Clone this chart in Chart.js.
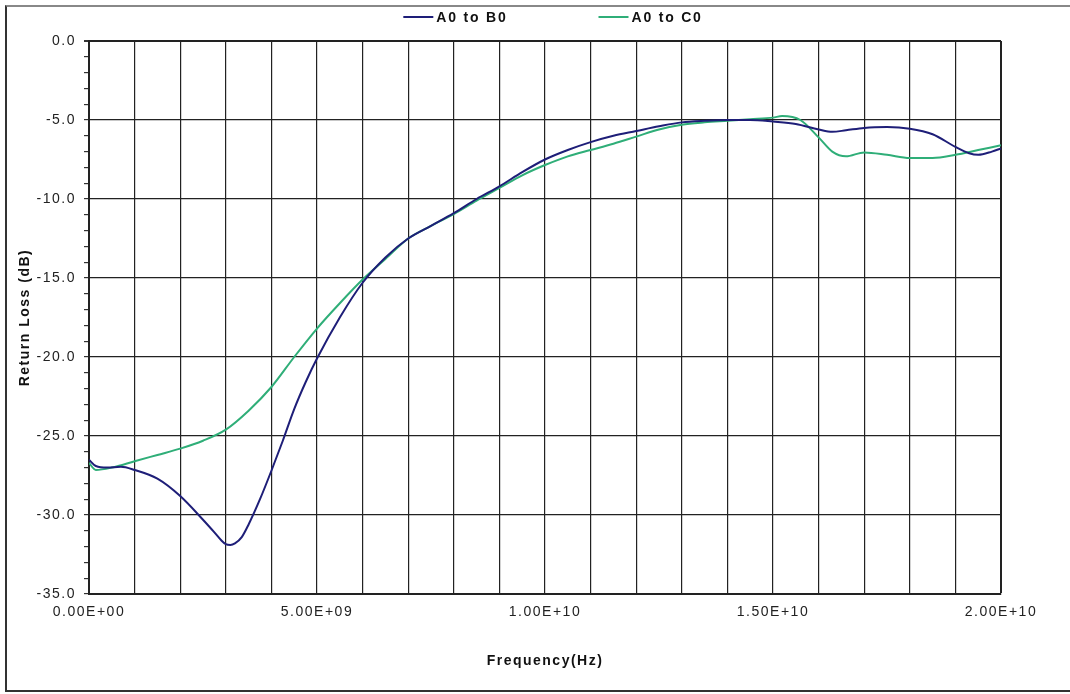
<!DOCTYPE html>
<html>
<head>
<meta charset="utf-8">
<title>Return Loss</title>
<script src="https://cdn.jsdelivr.net/npm/chart.js@4.4.1/dist/chart.umd.min.js"></script>
<style>
  html, body { margin: 0; padding: 0; background: #fff; }
  #wrap { position: relative; width: 1070px; height: 694px; overflow: hidden; }
  #chart { position: absolute; left: 0; top: 0; }
  #frame {
    position: absolute; left: 5px; top: 5px; width: 1080px; height: 687px;
    box-sizing: border-box; border: 2px solid #333; border-top-color: #888; border-right: none;
    pointer-events: none;
  }
</style>
</head>
<body>
<div id="wrap">
  <canvas id="chart" width="1070" height="694"></canvas>
  <div id="frame"></div>
</div>
<script>
// ===== DATA =====
const seriesNames = ['A0 to B0', 'A0 to C0'];

// frequency in GHz, return loss in dB
const freqB = [0, 0.15, 0.4, 0.7, 1.0, 1.5, 2.0, 2.5, 2.75, 2.9, 3.0, 3.1, 3.2, 3.35, 3.5, 3.75, 4.0, 4.25, 4.5, 4.75, 5.0, 5.5,
  6.0, 6.5, 7.0, 7.5, 8.0, 8.5, 9.0, 9.5, 10.0, 10.5, 11.0, 11.5, 12.0, 12.5, 13.0, 13.5, 14.0, 14.5, 15.0, 15.5,
  16.0, 16.3, 16.6, 17.0, 17.5, 18.0, 18.5, 19.0, 19.3, 19.5, 19.8, 20.0];
const lossB = [-26.5, -26.9, -27.0, -26.95, -27.15, -27.7, -28.8, -30.3, -31.1, -31.6, -31.85, -31.9, -31.8, -31.4, -30.6, -29.0, -27.2, -25.3, -23.3, -21.6, -20.1, -17.5,
  -15.3, -13.7, -12.5, -11.7, -10.9, -10.0, -9.2, -8.3, -7.5, -6.9, -6.4, -6.0, -5.7, -5.4, -5.15, -5.05, -5.0, -5.0, -5.1, -5.25,
  -5.6, -5.75, -5.65, -5.5, -5.45, -5.55, -5.9, -6.7, -7.1, -7.2, -7.0, -6.8];

const freqC = [0, 0.15, 0.5, 1.0, 1.5, 2.0, 2.5, 3.0, 3.5, 4.0, 4.5, 5.0, 5.5, 6.0, 6.5, 7.0, 7.5, 8.0, 8.5, 9.0,
  9.5, 10.0, 10.5, 11.0, 11.5, 12.0, 12.5, 13.0, 13.5, 14.0, 14.5, 15.0, 15.2, 15.6, 16.0, 16.3, 16.6, 17.0, 17.5, 18.0,
  18.5, 19.0, 19.5, 20.0];
const lossC = [-26.7, -27.15, -27.0, -26.6, -26.2, -25.8, -25.3, -24.6, -23.4, -21.9, -20.0, -18.2, -16.6, -15.1, -13.8, -12.5, -11.7, -10.95, -10.1, -9.3,
  -8.5, -7.85, -7.3, -6.9, -6.5, -6.05, -5.6, -5.3, -5.15, -5.05, -4.95, -4.85, -4.75, -5.0, -6.1, -7.0, -7.3, -7.05, -7.2, -7.4,
  -7.4, -7.2, -6.9, -6.6];

const xLabelValues = [0, 5e9, 1e10, 1.5e10, 2e10];
const yLabelStep = 5;

// ===== HELPERS =====
function sci(v) {
  if (v === 0) return '0.00E+00';
  const e = Math.floor(Math.log10(Math.abs(v)));
  const m = v / Math.pow(10, e);
  return m.toFixed(2) + 'E' + (e < 0 ? '-' : '+') + String(Math.abs(e)).padStart(2, '0');
}
const toPoints = (fs, ys) => fs.map((f, i) => ({ x: f * 1e9, y: ys[i] }));

const FONT = '"Liberation Sans", Arial, sans-serif';
const tickFont = { family: FONT, size: 14 };
const titleFont = { family: FONT, size: 14, weight: 'bold' };

// stretched look of the original text
const spacing = {
  id: 'spacing',
  beforeDraw(chart) { chart.ctx.letterSpacing = '1.5px'; }
};

// ===== LEGEND (top, centred) =====
const topLegend = {
  id: 'topLegend',
  afterDraw(chart) {
    const ctx = chart.ctx;
    const area = chart.chartArea;
    ctx.save();
    ctx.font = 'bold 14px ' + FONT;
    ctx.letterSpacing = '1.8px';
    const lineW = 30, gap = 3, between = 91;
    const items = chart.data.datasets.map(ds => ({ text: ds.label, color: ds.borderColor, w: ctx.measureText(ds.label).width }));
    const total = items.reduce((s, it) => s + lineW + gap + it.w, 0) + between * (items.length - 1);
    let x = (area.left + area.right) / 2 + 8 - total / 2;
    const y = 17;
    items.forEach(it => {
      ctx.strokeStyle = it.color;
      ctx.lineWidth = 2;
      ctx.beginPath(); ctx.moveTo(x, y); ctx.lineTo(x + lineW, y); ctx.stroke();
      ctx.fillStyle = '#111';
      ctx.textAlign = 'left';
      ctx.textBaseline = 'middle';
      ctx.fillText(it.text, x + lineW + gap, y + 1);
      x += lineW + gap + it.w + between;
    });
    ctx.restore();
  }
};

// ===== CHART =====
new Chart(document.getElementById('chart'), {
  type: 'line',
  data: {
    datasets: [
      { label: seriesNames[0], data: toPoints(freqB, lossB), borderColor: '#1e1e78', borderWidth: 2, pointRadius: 0, cubicInterpolationMode: 'monotone' },
      { label: seriesNames[1], data: toPoints(freqC, lossC), borderColor: '#2fae78', borderWidth: 2, pointRadius: 0, cubicInterpolationMode: 'monotone' }
    ]
  },
  options: {
    responsive: false,
    animation: false,
    layout: { padding: { left: 0, right: 69, top: 41, bottom: 0 } },
    plugins: { legend: { display: false }, tooltip: { enabled: false } },
    scales: {
      x: {
        type: 'linear', min: 0, max: 2e10,
        afterFit(scale) { scale.height = 100; },
        grid: { color: '#222', drawTicks: false, lineWidth: c => (c.tick && c.tick.value === 2e10 ? 2 : 1.2) },
        border: { color: '#222', width: 2 },
        ticks: {
          stepSize: 1e9, autoSkip: false, maxRotation: 0, padding: 10,
          font: tickFont, color: '#222',
          callback: v => (xLabelValues.includes(v) ? sci(v) : '')
        },
        title: { display: true, text: 'Frequency(Hz)', font: titleFont, color: '#111', padding: { top: 0, bottom: 24 } }
      },
      y: {
        min: -35, max: 0,
        afterFit(scale) { scale.width = 89; },
        grid: {
          color: c => (c.tick && c.tick.value % yLabelStep === 0 ? '#222' : 'rgba(0,0,0,0)'),
          lineWidth: c => (c.tick && c.tick.value === 0 ? 2 : 1.2),
          tickColor: '#333', tickLength: 5
        },
        border: { color: '#222', width: 2 },
        ticks: {
          stepSize: 1, autoSkip: false, padding: 8,
          font: tickFont, color: '#222',
          callback: v => (v % yLabelStep === 0 ? v.toFixed(1) : '')
        },
        title: { display: true, text: 'Return Loss (dB)', font: titleFont, color: '#111', padding: { top: 17, bottom: 0 } }
      }
    }
  },
  plugins: [spacing, topLegend]
});
</script>
</body>
</html>
